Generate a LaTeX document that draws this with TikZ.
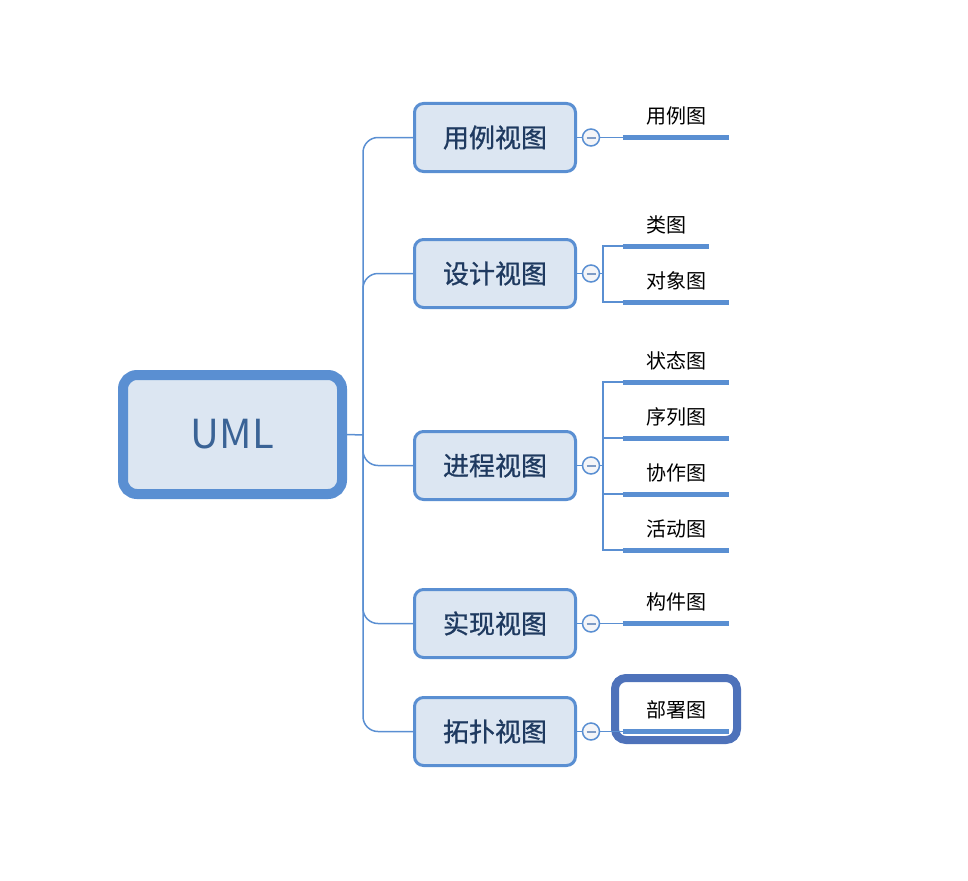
\documentclass[tikz,border=0pt]{standalone}
\usepackage{fontspec}
\setmainfont{Noto Sans CJK SC}
\newfontfamily\cjkmed[FakeBold=0.9]{Noto Sans CJK SC}
\definecolor{bline}{HTML}{5A8FD2}
\definecolor{bfill}{HTML}{DCE6F2}
\definecolor{btext}{HTML}{1F3A60}
\definecolor{umltext}{HTML}{3A6396}
\definecolor{hlblue}{HTML}{4E72BA}
\definecolor{minusc}{HTML}{7F9CC6}
\definecolor{cfill}{HTML}{F4F5F8}
\tikzset{
  rootbox/.style={draw=bline, fill=bfill, line width=10pt, rounded corners=14pt,
    minimum width=219pt, minimum height=119pt, text=umltext, font=\fontsize{40}{44}\selectfont},
  viewbox/.style={draw=bline, fill=bfill, line width=3pt, rounded corners=9pt,
    minimum width=161pt, minimum height=68pt, text=btext, font=\cjkmed\fontsize{26}{30}\selectfont},
  conn/.style={draw=bline, line width=1.5pt},
  togglec/.style={circle, draw=bline, fill=cfill, line width=1.5pt, minimum size=17pt, inner sep=0pt},
  leaf/.style={minimum width=106pt, minimum height=42pt, inner sep=0pt, anchor=south, font=\fontsize{20}{23}\selectfont},
  leafs/.style={leaf, minimum width=86pt},
  uline/.style={draw=bline, line width=5pt},
  hlbox/.style={draw=hlblue, line width=8pt, rounded corners=11pt, minimum width=122pt, minimum height=62pt}
}
\begin{document}
\begin{tikzpicture}[x=1pt,y=-1pt]
\useasboundingbox (0,0) rectangle (968,880);
% root
\node[rootbox] (uml) at (232.5,434.5) {UML};
\coordinate (hub) at (363,435);
% views
\node[viewbox] (b1) at (495,137.5) {用例视图};
\node[viewbox] (b2) at (495,273.5) {设计视图};
\node[viewbox] (b3) at (495,465.5) {进程视图};
\node[viewbox] (b4) at (495,623.5) {实现视图};
\node[viewbox] (b5) at (495,731.5) {拓扑视图};
% trunk
\draw[conn] (uml.east) -- (hub);
\foreach \b in {b1,b2,b3,b4,b5}{
  \draw[conn, rounded corners=15pt] (\b.west) -| (hub);
}
% toggles
\foreach \i/\y in {1/137.5,2/273.5,3/465.5,4/623.5,5/731.5}{
  \node[togglec] (c\i) at (591,\y) {};
  \draw[conn] (b\i.east) -- (c\i.west);
  \draw[draw=minusc, line width=2pt] ([xshift=-4.5pt]c\i.center) -- ([xshift=4.5pt]c\i.center);
}
% highlight box
\node[hlbox] (hl) at (676,709) {};
% leaves
\node[leaf] (l1) at (676,137.5) {用例图};
\node[leafs] (l2) at (666,246) {类图};
\node[leaf] (l3) at (676,302) {对象图};
\node[leaf] (l4) at (676,382) {状态图};
\node[leaf] (l5) at (676,438) {序列图};
\node[leaf] (l6) at (676,494) {协作图};
\node[leaf] (l7) at (676,550) {活动图};
\node[leaf] (l8) at (676,623.5) {构件图};
\node[leaf] (l9) at (676,731.5) {部署图};
% underlines
\foreach \l in {l1,l2,l3,l4,l5,l6,l7,l8,l9}{
  \draw[uline] (\l.south west) -- (\l.south east);
}
% connectors to leaves
\draw[conn] (c1.east) -- (l1.south west);
\draw[conn] (c4.east) -- (l8.south west);
\draw[conn] (c5.east) -- (l9.south west);
\coordinate (k2) at (603,273.5);
\draw[conn] (c2.east) -- (k2);
\draw[conn] (l2.south west) -| (k2) |- (l3.south west);
\coordinate (k3) at (603,465.5);
\draw[conn] (c3.east) -- (k3);
\draw[conn] (l4.south west) -| (k3) |- (l7.south west);
\draw[conn] (l5.south west) -| (k3);
\draw[conn] (l6.south west) -| (k3);
\end{tikzpicture}
\end{document}
